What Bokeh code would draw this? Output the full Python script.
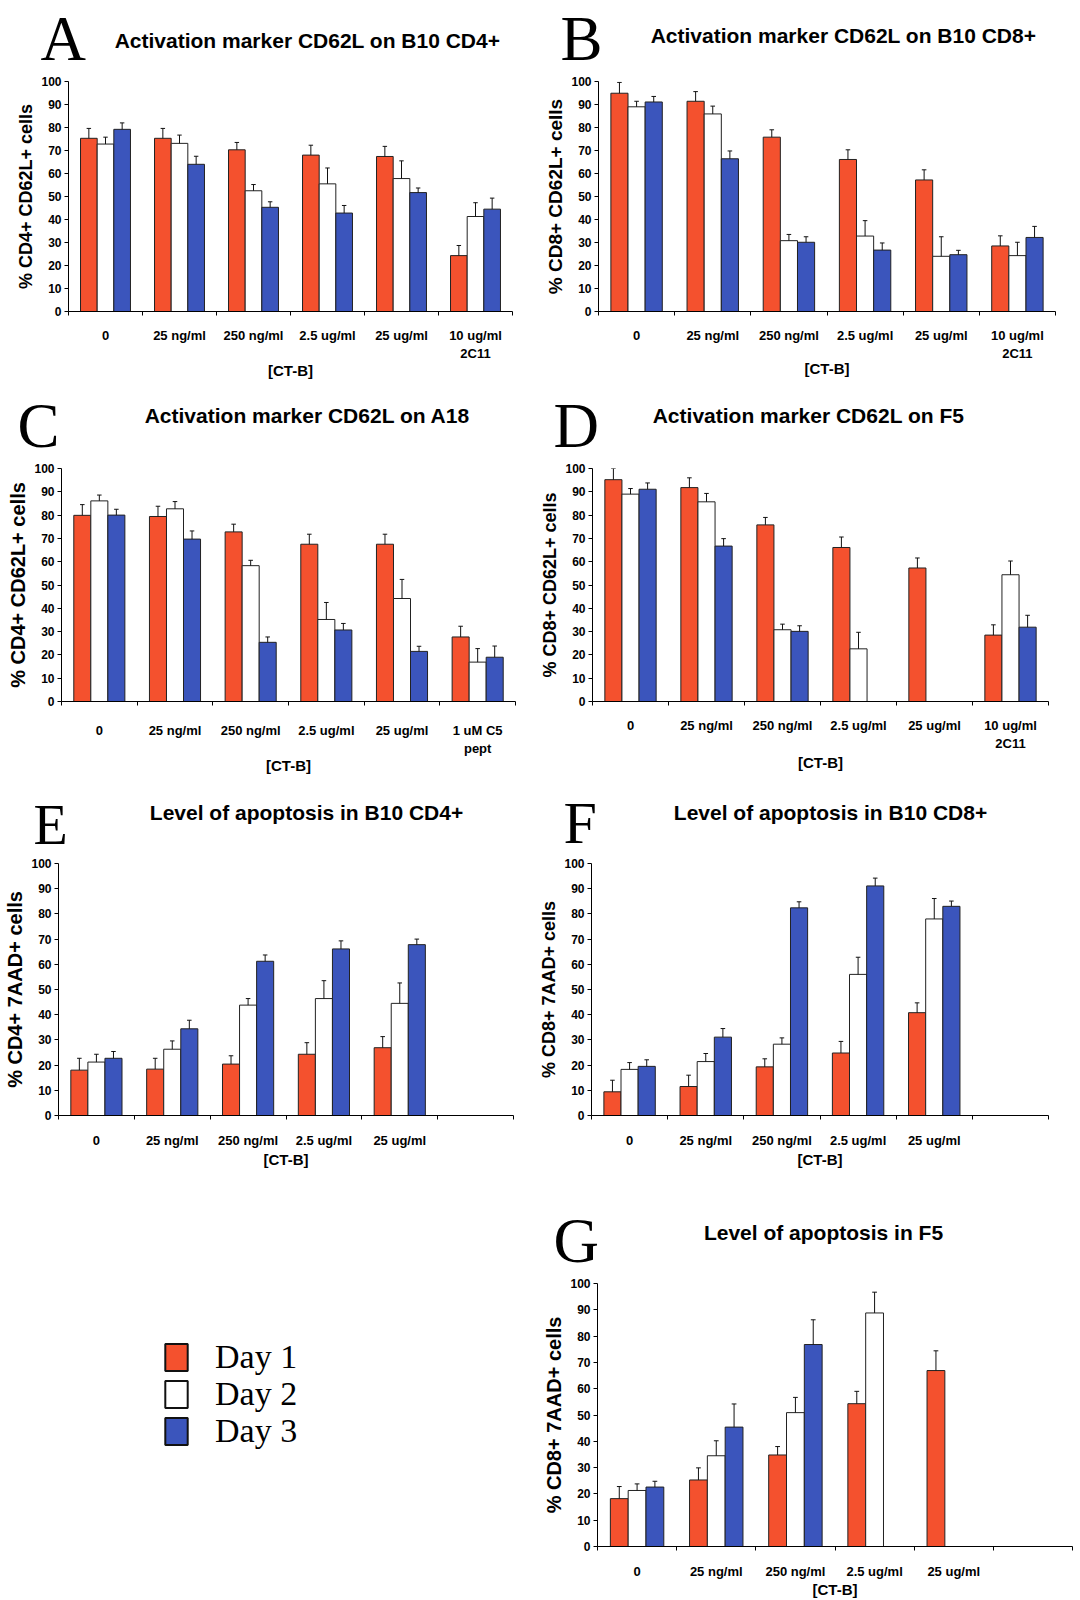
from bokeh.plotting import figure
from bokeh.models import Range1d, FixedTicker, Label, Legend, LegendItem, Spacer
from bokeh.layouts import column, row
from bokeh.embed import file_html
from bokeh.resources import INLINE

RED = "#F4512E"
WHITE = "#FFFFFF"
BLUE = "#3B55BC"
EDGE = "#222222"

cats_2c11 = ["0", "25 ng/ml", "250 ng/ml", "2.5 ug/ml", "25 ug/ml", "10 ug/ml\n2C11"]
cats_c5 = ["0", "25 ng/ml", "250 ng/ml", "2.5 ug/ml", "25 ug/ml", "1 uM C5\npept"]
cats_apop = ["0", "25 ng/ml", "250 ng/ml", "2.5 ug/ml", "25 ug/ml"]

# Panel A
a_day1 = [75.3, 75.3, 70.3, 68.0, 67.4, 24.3]
a_day1_err = [4.3, 4.3, 3.2, 4.3, 4.4, 4.4]
a_day2 = [72.8, 73.1, 52.5, 55.5, 57.8, 41.3]
a_day2_err = [3.0, 3.6, 2.7, 6.9, 7.7, 6.0]
a_day3 = [79.2, 64.0, 45.3, 42.8, 51.7, 44.5]
a_day3_err = [2.8, 3.5, 2.4, 3.3, 2.0, 4.8]

# Panel B
b_day1 = [94.9, 91.4, 75.8, 66.1, 57.2, 28.5]
b_day1_err = [4.7, 4.2, 3.2, 4.2, 4.4, 4.4]
b_day2 = [89.0, 85.9, 30.8, 32.8, 24.0, 24.3]
b_day2_err = [2.4, 3.4, 2.7, 6.7, 8.5, 5.8]
b_day3 = [91.1, 66.4, 30.1, 26.7, 24.7, 32.2]
b_day3_err = [2.4, 3.4, 2.4, 3.1, 1.9, 4.8]

# Panel C
c_day1 = [79.9, 79.4, 72.8, 67.5, 67.5, 27.7]
c_day1_err = [4.6, 4.4, 3.3, 4.3, 4.3, 4.6]
c_day2 = [86.1, 82.7, 58.3, 35.2, 44.2, 16.9]
c_day2_err = [2.5, 3.1, 2.3, 7.3, 8.2, 5.8]
c_day3 = [80.0, 69.7, 25.4, 30.7, 21.5, 19.0]
c_day3_err = [2.5, 3.5, 2.3, 2.8, 2.2, 4.8]

# Panel D
d_day1 = [95.2, 91.8, 75.8, 66.1, 57.3, 28.5]
d_day1_err = [4.8, 4.2, 3.2, 4.5, 4.3, 4.4]
d_day2 = [89.0, 85.7, 30.8, 22.6, None, 54.4]
d_day2_err = [2.4, 3.6, 2.4, 7.1, None, 5.9]
d_day3 = [91.1, 66.7, 30.1, None, None, 31.9]
d_day3_err = [2.7, 3.2, 2.4, None, None, 5.1]

# Panel E
e_day1 = [18.0, 18.4, 20.4, 24.3, 26.9]
e_day1_err = [4.7, 4.3, 3.3, 4.6, 4.4]
e_day2 = [21.2, 26.3, 43.8, 46.4, 44.5]
e_day2_err = [3.1, 3.3, 2.6, 7.1, 8.1]
e_day3 = [22.7, 34.4, 61.2, 66.1, 67.8]
e_day3_err = [2.7, 3.4, 2.5, 3.2, 2.2]

# Panel F
f_day1 = [9.4, 11.5, 19.3, 24.8, 40.8]
f_day1_err = [4.6, 4.5, 3.2, 4.6, 3.9]
f_day2 = [18.3, 21.4, 28.3, 56.0, 78.0]
f_day2_err = [2.7, 3.2, 2.5, 6.8, 8.1]
f_day3 = [19.5, 31.1, 82.4, 91.1, 83.0]
f_day3_err = [2.6, 3.4, 2.4, 3.1, 2.1]

# Panel G
g_day1 = [18.2, 25.3, 34.8, 54.3, 66.9]
g_day1_err = [4.6, 4.6, 3.2, 4.7, 7.5]
g_day2 = [21.3, 34.5, 50.9, 88.8, None]
g_day2_err = [2.5, 5.7, 5.8, 7.9, None]
g_day3 = [22.6, 45.4, 76.8, None, None]
g_day3_err = [2.2, 8.8, 9.4, None, None]

legend_labels = ["Day 1", "Day 2", "Day 3"]
legend_colors = [RED, WHITE, BLUE]

y_ticks = list(range(0, 101, 10))
NSLOT = 6
BAR_W = 0.225
CAP = 0.03
SANS = "Liberation Sans"
SERIF = "Liberation Serif"
COLW = 536
W2 = 1080 - COLW


def base_fig(w, h, **kw):
    p = figure(width=w, height=h, toolbar_location=None, output_backend="svg", **kw)
    p.grid.visible = False
    p.outline_line_color = None
    p.background_fill_color = "white"
    p.border_fill_color = "white"
    return p


def header(fx, fy, w, h, letter, lpos, lsize, title, tpos):
    p = base_fig(w, h, x_range=Range1d(0, w), y_range=Range1d(h, 0),
                 x_axis_location=None, y_axis_location=None, min_border=0)
    p.add_layout(Label(x=lpos[0] - fx, y=lpos[1] - fy, text=letter, text_font=SERIF,
                       text_font_size=f"{lsize}px", text_align="left",
                       text_baseline="middle", text_color="black"))
    p.add_layout(Label(x=tpos[0] - fx, y=tpos[1] - fy, text=title, text_font=SANS,
                       text_font_style="bold", text_font_size="21px", text_align="center",
                       text_baseline="middle", text_color="black"))
    return p


def panel(fx, fy, fw, fh, L, T, R, B, cats, series, ylabel, ylsize, xstand, xlstand):
    p = base_fig(fw, fh, x_range=Range1d(0, NSLOT), y_range=Range1d(0, 100),
                 min_border_left=L - fx, min_border_right=fx + fw - R,
                 min_border_top=T - fy, min_border_bottom=fy + fh - B)

    for k, (vals, errs, color) in enumerate(series):
        off = (k - 1) * BAR_W
        xs = [i + 0.5 + off for i, v in enumerate(vals) if v is not None]
        tops = [v for v in vals if v is not None]
        es = [e for v, e in zip(vals, errs) if v is not None]
        ups = [t + e for t, e in zip(tops, es)]
        p.vbar(x=xs, top=tops, bottom=0, width=BAR_W, fill_color=color,
               line_color=EDGE, line_width=1)
        p.segment(x0=xs, y0=tops, x1=xs, y1=ups, line_color="#111111", line_width=1)
        p.segment(x0=[x - CAP for x in xs], y0=ups, x1=[x + CAP for x in xs], y1=ups,
                  line_color="#111111", line_width=1)

    xa = p.xaxis[0]
    centers = [i + 0.5 for i in range(len(cats))]
    xa.ticker = FixedTicker(ticks=centers, minor_ticks=list(range(NSLOT + 1)))
    xa.major_label_overrides = {c: lab for c, lab in zip(centers, cats)}
    xa.major_tick_line_color = None
    xa.major_tick_out = 0
    xa.major_tick_in = 0
    xa.minor_tick_out = 4
    xa.minor_tick_in = 0
    xa.minor_tick_line_color = "black"
    xa.axis_line_color = "black"
    xa.major_label_standoff = xstand
    xa.major_label_text_font = SANS
    xa.major_label_text_font_style = "bold"
    xa.major_label_text_font_size = "13px"
    xa.major_label_text_color = "black"
    xa.axis_label = "[CT-B]"
    xa.axis_label_text_font = SANS
    xa.axis_label_text_font_style = "bold"
    xa.axis_label_text_font_size = "15px"
    xa.axis_label_text_color = "black"
    xa.axis_label_standoff = xlstand

    ya = p.yaxis[0]
    ya.ticker = FixedTicker(ticks=y_ticks, minor_ticks=[])
    ya.major_tick_out = 4
    ya.major_tick_in = 0
    ya.major_tick_line_color = "black"
    ya.axis_line_color = "black"
    ya.major_label_standoff = 3
    ya.major_label_text_font = SANS
    ya.major_label_text_font_style = "bold"
    ya.major_label_text_font_size = "12px"
    ya.major_label_text_color = "black"
    ya.axis_label = ylabel
    ya.axis_label_text_font = SANS
    ya.axis_label_text_font_style = "bold"
    ya.axis_label_text_font_size = f"{ylsize}px"
    ya.axis_label_text_color = "black"
    ya.axis_label_standoff = 2
    return p


# ---- Row 1 (page y 0..390) ----
hA = header(0, 0, COLW, 73, "A", (40, 38), 63, "Activation marker CD62L on B10 CD4+", (307, 40))
hB = header(COLW, 0, W2, 73, "B", (560, 38), 63, "Activation marker CD62L on B10 CD8+", (843, 35))
pA = panel(0, 73, COLW, 317, 68, 81, 512, 311, cats_2c11,
           [(a_day1, a_day1_err, RED), (a_day2, a_day2_err, WHITE), (a_day3, a_day3_err, BLUE)],
           "% CD4+ CD62L+ cells", 18, 12, -2)
pB = panel(COLW, 73, W2, 317, 598, 81, 1055, 311, cats_2c11,
           [(b_day1, b_day1_err, RED), (b_day2, b_day2_err, WHITE), (b_day3, b_day3_err, BLUE)],
           "% CD8+ CD62L+ cells", 19, 12, -4)

# ---- Row 2 (page y 390..790) ----
hC = header(0, 390, COLW, 70, "C", (17, 425), 63, "Activation marker CD62L on A18", (307, 415))
hD = header(COLW, 390, W2, 70, "D", (553, 425), 63, "Activation marker CD62L on F5", (808, 415))
pC = panel(0, 460, COLW, 330, 61, 468, 515, 701, cats_c5,
           [(c_day1, c_day1_err, RED), (c_day2, c_day2_err, WHITE), (c_day3, c_day3_err, BLUE)],
           "% CD4+ CD62L+ cells", 20, 17, -2)
pD = panel(COLW, 460, W2, 330, 592, 468, 1048, 701, cats_2c11,
           [(d_day1, d_day1_err, RED), (d_day2, d_day2_err, WHITE), (d_day3, d_day3_err, BLUE)],
           "% CD8+ CD62L+ cells", 18, 12, 0)

# ---- Row 3 (page y 790..1175) ----
hE = header(0, 790, COLW, 65, "E", (33, 824), 56, "Level of apoptosis in B10 CD4+", (306, 812))
hF = header(COLW, 790, W2, 65, "F", (563, 822), 60, "Level of apoptosis in B10 CD8+", (830, 812))
pE = panel(0, 855, COLW, 320, 58, 863, 513, 1115, cats_apop,
           [(e_day1, e_day1_err, RED), (e_day2, e_day2_err, WHITE), (e_day3, e_day3_err, BLUE)],
           "% CD4+ 7AAD+ cells", 20, 13, 0)
pF = panel(COLW, 855, W2, 320, 590, 863, 1048, 1115, cats_apop,
           [(f_day1, f_day1_err, RED), (f_day2, f_day2_err, WHITE), (f_day3, f_day3_err, BLUE)],
           "% CD8+ 7AAD+ cells", 18, 13, 0)

# ---- Row 4 (page y 1175..1600) ----
hG = header(COLW, 1175, W2, 100, "G", (553, 1240), 63, "Level of apoptosis in F5", (823, 1232))
pG = panel(COLW, 1275, W2, 325, 597, 1283, 1072, 1547, cats_apop,
           [(g_day1, g_day1_err, RED), (g_day2, g_day2_err, WHITE), (g_day3, g_day3_err, BLUE)],
           "% CD8+ 7AAD+ cells", 20, 13, -1)

# Legend panel (its frame is aligned with panel G: top 1283, bottom 1547)
pL = base_fig(COLW, 325, x_range=Range1d(0, 1), y_range=Range1d(0, 1),
              x_axis_location=None, y_axis_location=None,
              min_border_left=0, min_border_right=0, min_border_top=8, min_border_bottom=53)
legend_centers = [1357.5, 1394.5, 1431.5]  # page y of each legend row centre
for lab, col, yc in zip(legend_labels, legend_colors, legend_centers):
    r = pL.vbar(x=[0.5], top=[0.5], width=0.1, fill_color=col, line_color="#111111",
                line_width=2)
    r.visible = False
    leg = Legend(items=[LegendItem(label=lab, renderers=[r])],
                 location=(162, round(1547 - (yc + 19.5))), orientation="vertical",
                 glyph_width=28, glyph_height=34, label_standoff=25, label_height=20,
                 label_text_font=SERIF, label_text_font_size="34px",
                 label_text_color="black", spacing=0, padding=0, margin=0,
                 border_line_color=None, background_fill_alpha=0, inactive_fill_alpha=0)
    pL.add_layout(leg, "center")

layout = column(
    row(hA, hB), row(pA, pB),
    row(hC, hD), row(pC, pD),
    row(hE, hF), row(pE, pF),
    row(Spacer(width=COLW, height=100), hG), row(pL, pG),
)

open("out.html", "w").write(file_html(layout, INLINE))
